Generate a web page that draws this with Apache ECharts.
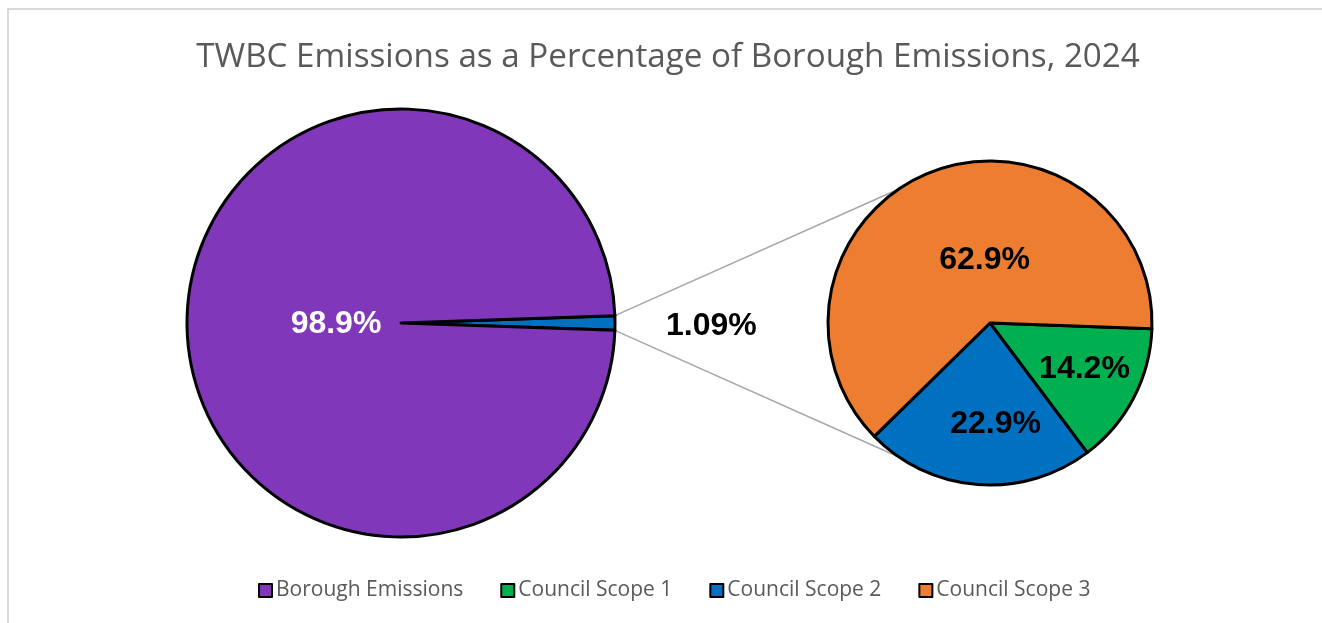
<!DOCTYPE html>
<html>
<head>
<meta charset="utf-8">
<script src="https://cdn.jsdelivr.net/npm/echarts@6/dist/echarts.min.js"></script>
<style>
  html, body { margin: 0; padding: 0; background: #fff; }
  #chart { width: 1322px; height: 623px; }
</style>
</head>
<body>
<div id="chart"></div>
<script>
// data
const mainNames = ["Council Emissions", "Borough Emissions"];
const mainValues = [1.09, 98.9];
const subNames = ["Council Scope 1", "Council Scope 2", "Council Scope 3"];
const subValues = [14.2, 22.9, 62.9];
const legendNames = ["Borough Emissions", "Council Scope 1", "Council Scope 2", "Council Scope 3"];

const colors = {
  "Borough Emissions": "#8137BA",
  "Council Emissions": "#0070C0",
  "Council Scope 1": "#00B050",
  "Council Scope 2": "#0070C0",
  "Council Scope 3": "#ED7D31"
};

const W = 1322, H = 623;
const leftC = [401, 323], leftR = 214;
const rightC = [990, 323], rightR = 162;

// label nudges (Excel places labels a bit differently from echarts)
const mainNudge = [[1, 3], [45, 1]];
const subNudge = [[20, 7], [12, 17], [25, 15]];

// small slice centred on the right-hand side of the big pie
const smallAngle = mainValues[0] / (mainValues[0] + mainValues[1]) * 360;
const mainStart = smallAngle / 2;

// connector lines from the small slice edges to the second pie
function connectors() {
  const a = smallAngle / 2 * Math.PI / 180;
  const b = 124 * Math.PI / 180;
  const p1 = [leftC[0] + leftR * Math.cos(a), leftC[1] - leftR * Math.sin(a)];
  const p2 = [leftC[0] + leftR * Math.cos(a), leftC[1] + leftR * Math.sin(a)];
  const q1 = [rightC[0] + rightR * Math.cos(b), rightC[1] - rightR * Math.sin(b)];
  const q2 = [rightC[0] + rightR * Math.cos(b), rightC[1] + rightR * Math.sin(b)];
  const style = { stroke: "#a6a6a6", lineWidth: 1.5 };
  return [
    { type: "line", z: -1, shape: { x1: p1[0], y1: p1[1], x2: q1[0], y2: q1[1] }, style: style },
    { type: "line", z: -1, shape: { x1: p2[0], y1: p2[1], x2: q2[0], y2: q2[1] }, style: style },
    { type: "rect", z: -2, shape: { x: 8, y: 9, width: W, height: H }, style: { fill: "none", stroke: "#d9d9d9", lineWidth: 2 } }
  ];
}

const chart = echarts.init(document.getElementById("chart"), null, { renderer: "canvas" });

chart.setOption({
  animation: false,
  backgroundColor: "#fff",
  title: {
    text: "TWBC Emissions as a Percentage of Borough Emissions, 2024",
    left: 663,
    textAlign: "center",
    top: 36,
    textStyle: { fontFamily: "Open Sans", fontSize: 33.2, fontWeight: "normal", color: "#595959" }
  },
  legend: {
    data: legendNames,
    bottom: 17,
    left: 253,
    icon: "rect",
    itemWidth: 13,
    itemHeight: 13,
    itemGap: 37,
    itemStyle: { borderColor: "#000", borderWidth: 2 },
    textStyle: { fontFamily: "Open Sans", fontSize: 21, color: "#595959", padding: [0, 0, 0, -1] }
  },
  graphic: connectors(),
  series: [
    {
      type: "pie",
      center: [leftC[0], leftC[1]],
      radius: leftR,
      startAngle: mainStart,
      clockwise: true,
      avoidLabelOverlap: false,
      itemStyle: { borderColor: "#000", borderWidth: 3 },
      label: {
        position: "inside",
        fontFamily: "Arial",
        fontWeight: "bold",
        fontSize: 32,
        formatter: function (p) { return p.value + "%"; }
      },
      labelLayout: function (p) {
        return { dx: mainNudge[p.dataIndex][0], dy: mainNudge[p.dataIndex][1] };
      },
      labelLine: { show: false },
      emphasis: { disabled: true },
      data: mainNames.map(function (n, i) {
        const d = { name: n, value: mainValues[i], itemStyle: { color: colors[n] } };
        if (i === 0) {
          d.label = { position: "outside", color: "#000", distance: 50 };
        } else {
          d.label = { color: "#fff", position: "inside" };
        }
        return d;
      })
    },
    {
      type: "pie",
      center: [rightC[0], rightC[1]],
      radius: rightR,
      startAngle: -2,
      clockwise: true,
      avoidLabelOverlap: false,
      itemStyle: { borderColor: "#000", borderWidth: 3 },
      label: {
        position: "inside",
        color: "#000",
        fontFamily: "Arial",
        fontWeight: "bold",
        fontSize: 32,
        formatter: function (p) { return p.value + "%"; }
      },
      labelLayout: function (p) {
        return { dx: subNudge[p.dataIndex][0], dy: subNudge[p.dataIndex][1] };
      },
      labelLine: { show: false },
      emphasis: { disabled: true },
      data: subNames.map(function (n, i) {
        return { name: n, value: subValues[i], itemStyle: { color: colors[n] } };
      })
    }
  ]
});
</script>
</body>
</html>
